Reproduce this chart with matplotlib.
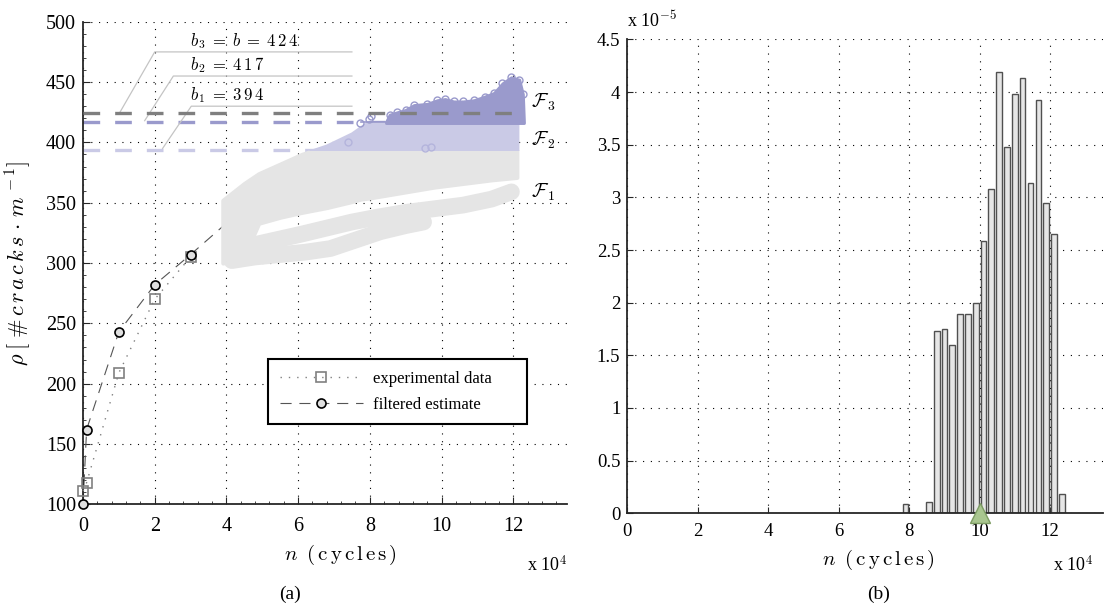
import numpy as np
import matplotlib
matplotlib.use('Agg')
import matplotlib.pyplot as plt
from matplotlib.patches import Rectangle
from matplotlib.lines import Line2D
from matplotlib.ticker import MultipleLocator, FuncFormatter

plt.rcParams['font.family'] = ['Liberation Serif', 'DejaVu Serif']
plt.rcParams['mathtext.fontset'] = 'cm'

# ---- data (n in units of 1e4 cycles) ----
n_exp = [0, 0.1, 1, 2, 3]
rho_exp = [111, 118, 209, 270, 305]

n_filt = [0, 0.1, 1, 2, 3, 4]
rho_filt = [100, 162, 243, 282, 307, 333]

b_vals = [394, 417, 424]          # b1, b2, b3 = b

# particle cloud
mass_x = [3.9, 4.5, 4.9, 5.5, 6.1, 6.8, 7.5, 7.74, 8.0, 8.2, 9.0, 9.8, 10.6, 11.4, 12.1]
mass_top = [352, 366, 374, 382, 390, 397, 407, 412, 417, 417, 417, 417, 417, 417, 417]
mass_bot = [300, 306, 333, 338, 342, 346, 351, 353, 354, 355, 359, 363, 366, 369, 371]

strandA_x = [4.15, 4.8, 5.5, 6.2, 6.9, 7.6, 8.3, 9.0, 9.5]
strandA_y = [302, 305, 307, 309, 312, 319, 326, 331, 334]
strandB_x = [4.15, 4.9, 5.5, 6.1, 6.8, 7.5, 8.2, 9.0, 9.8, 10.6, 11.4, 11.95]
strandB_y = [312, 316, 320, 324, 329, 334, 338, 342, 345, 348, 353, 359]

f3_x = [8.45, 8.55, 8.76, 9.0, 9.23, 9.6, 9.88, 10.1, 10.34, 10.6, 10.9, 11.2, 11.46, 11.7, 11.94, 12.17, 12.27, 12.3]
f3_top = [417, 423, 425, 427, 431, 432, 435, 436, 434, 434, 435, 438, 441, 449, 454, 452, 440, 417]
loose3_x = [7.72, 7.98, 8.03]
loose3_y = [416, 419, 421.5]
loose2_x = [7.4, 9.55, 9.7]
loose2_y = [400.5, 395, 396]

# histogram of failure cycles (density in units of 1e-5)
hist_n = [7.89, 8.56, 8.78, 9.0, 9.22, 9.45, 9.67, 9.9, 10.11, 10.33,
          10.55, 10.77, 11.0, 11.22, 11.44, 11.67, 11.89, 12.11, 12.33]
hist_p = [0.09, 0.11, 1.73, 1.75, 1.60, 1.89, 1.89, 2.0, 2.59, 3.08,
          4.19, 3.48, 3.98, 4.13, 3.14, 3.92, 2.95, 2.65, 0.18]
n_true = 10

c_f1 = '#e5e5e5'
c_f2 = '#cacae6'
c_f3 = '#9a9acc'
grid_ls = (0, (1, 6))

fig = plt.figure(figsize=(11.07, 6.09), dpi=100)
ax1 = fig.add_axes([0.075, 0.1719, 0.4372, 0.7924])
ax2 = fig.add_axes([0.5667, 0.1571, 0.4297, 0.7783])

for ax in (ax1, ax2):
    ax.spines['top'].set_visible(False)
    ax.spines['right'].set_visible(False)
    for s in ('left', 'bottom'):
        ax.spines[s].set_color('#262626')
        ax.spines[s].set_linewidth(1.3)
    ax.grid(True, linestyle=grid_ls, color='k', linewidth=0.8)
    ax.set_axisbelow(True)

# ---------------- left panel ----------------
ax1.set_xlim(0, 13.5)
ax1.set_ylim(100, 500)
ax1.xaxis.set_major_locator(MultipleLocator(2))
ax1.xaxis.set_minor_locator(MultipleLocator(0.4))
ax1.yaxis.set_major_locator(MultipleLocator(50))
ax1.yaxis.set_minor_locator(MultipleLocator(10))
ax1.set_xticks(np.arange(0, 13, 2))
ax1.tick_params(which='both', direction='in', colors='#262626', labelcolor='k')
ax1.tick_params(which='major', length=5, labelsize=14.5)
ax1.tick_params(which='minor', length=2.5)
ax1.tick_params(axis='x', pad=9)
ax1.tick_params(axis='y', pad=5)

# threshold lines below the cloud
ax1.plot([0, 12.1], [b_vals[0]] * 2, color=c_f2, lw=2.4, dashes=(5, 4.5), zorder=1.5)
ax1.plot([0, 12.1], [b_vals[1]] * 2, color=c_f3, lw=2.4, dashes=(5, 4.5), zorder=1.5)

# cloud, split into the three bands
bands = [(100, b_vals[0], c_f1), (b_vals[0], b_vals[1], c_f2)]
for lo, hi, col in bands:
    clip = Rectangle((0, lo), 14, hi - lo, transform=ax1.transData)
    p = ax1.fill_between(mass_x, mass_bot, mass_top, color=col, lw=3,
                         edgecolor=col, joinstyle='round', zorder=2)
    p.set_clip_path(clip)
ax1.plot(strandA_x, strandA_y, color=c_f1, lw=12, solid_capstyle='round',
         solid_joinstyle='round', zorder=2)
ax1.plot(strandB_x, strandB_y, color=c_f1, lw=12, solid_capstyle='round',
         solid_joinstyle='round', zorder=2)
ax1.plot([7.74, 8.5], [b_vals[1]] * 2, color=c_f3, lw=1.2, zorder=2)
ax1.fill_between(f3_x, b_vals[1] - 1, f3_top, color=c_f3, lw=2, edgecolor=c_f3, zorder=2)
ax1.plot(f3_x[1:-1], f3_top[1:-1], 'o', mfc='none', mec=c_f3, ms=5, mew=1, zorder=2)
ax1.plot(loose3_x, loose3_y, 'o', mfc='none', mec=c_f3, ms=5, mew=1, zorder=2)
ax1.plot(loose2_x, loose2_y, 'o', mfc='none', mec='#b4b4dc', ms=5, mew=1, zorder=2)

ax1.plot([0, 12.1], [b_vals[2]] * 2, color='#7f7f7f', lw=2.4, dashes=(5, 4.5), zorder=4)

# annotations of b values
ann_c = '#c4c4c4'
ax1.plot([1.03, 2.0, 7.5], [b_vals[2] + 1, 475, 475], color=ann_c, lw=0.9, zorder=3)
ax1.plot([1.72, 2.52, 7.5], [b_vals[1] + 1, 455, 455], color=ann_c, lw=0.9, zorder=3)
ax1.plot([2.22, 3.02, 7.5], [b_vals[0] + 1, 430, 430], color=ann_c, lw=0.9, zorder=3)
ax1.text(2.97, 484, r'$b_{\,3}\;=\;b\;=\;4\,2\,4$', fontsize=12, va='center', zorder=5)
ax1.text(2.97, 464, r'$b_{\,2}\;=\;4\,1\,7$', fontsize=12, va='center', zorder=5)
ax1.text(2.97, 439, r'$b_{\,1}\;=\;3\,9\,4$', fontsize=12, va='center', zorder=5)

ax1.text(12.5, 433, r'$\mathcal{F}_{\,3}$', fontsize=14, va='center')
ax1.text(12.5, 402, r'$\mathcal{F}_{\,2}$', fontsize=14, va='center')
ax1.text(12.5, 359, r'$\mathcal{F}_{\,1}$', fontsize=14, va='center')

# measurements and filtered estimate
exp_style = dict(color='#808080', ls=(0, (1, 5)), lw=1.0, marker='s', ms=6.5,
                 mfc='none', mec='#808080', mew=1.2)
filt_line = dict(color='#555555', ls=(0, (10, 7)), lw=0.8)
filt_mark = dict(marker='o', ms=6.5, mfc='#e0e0e0', mec='k', mew=1.2)
ax1.plot(n_exp, rho_exp, zorder=3, clip_on=False, **exp_style)
ax1.plot(n_filt, rho_filt, zorder=1.8, **filt_line)
ax1.plot(n_filt[:5], rho_filt[:5], ls='none', zorder=3.5, clip_on=False, **filt_mark)

handles = [Line2D([], [], **exp_style),
           Line2D([], [], **filt_line, **filt_mark)]
leg = ax1.legend(handles, ['experimental data', 'filtered estimate'],
                 loc='upper left', bbox_to_anchor=(0.382, 0.171, 0.536, 0.13),
                 mode='expand', fontsize=12, handlelength=5.0, handletextpad=0.6,
                 labelspacing=0.6, borderpad=0.7, fancybox=False, framealpha=1,
                 edgecolor='k', numpoints=1, borderaxespad=0)
leg.get_frame().set_linewidth(1.5)

ax1.set_ylabel(r'$\rho\;[\;\#\,c\,r\,a\,c\,k\,s\,\cdot\,m^{\,-1}]$', fontsize=16)
ax1.yaxis.set_label_coords(-0.134, 0.5)
ax1.yaxis.label.set_verticalalignment('center')
ax1.set_xlabel(r'$n\;\;(\,\mathrm{c\,y\,c\,l\,e\,s}\,)$', fontsize=15)
ax1.xaxis.set_label_coords(0.531, -0.105)
ax1.xaxis.label.set_verticalalignment('center')
ax1.text(1.0, -0.126, r'x 10$^{4}$', transform=ax1.transAxes, ha='right',
         va='center', fontsize=13)

# ---------------- right panel ----------------
ax2.bar(hist_n, hist_p, width=0.16, color='#e6e6e6', edgecolor='#505050',
        linewidth=1.0, zorder=2)
ax2.plot([n_true], [0], marker='^', ms=15, mfc='#a9c68f', mec='#7d9c63',
         mew=1, clip_on=False, zorder=5)
ax2.set_xlim(0, 13.5)
ax2.set_ylim(0, 4.5)
ax2.set_xticks(np.arange(0, 13, 2))
ax2.yaxis.set_major_locator(MultipleLocator(0.5))
ax2.yaxis.set_major_formatter(FuncFormatter(lambda v, p: '%g' % v))
ax2.tick_params(direction='in', length=4, labelsize=13.5, colors='#262626', labelcolor='k')
ax2.tick_params(axis='x', pad=7)
ax2.tick_params(axis='y', pad=5)
ax2.set_xlabel(r'$n\;\;(\,\mathrm{c\,y\,c\,l\,e\,s}\,)$', fontsize=15)
ax2.xaxis.set_label_coords(0.527, -0.0985)
ax2.xaxis.label.set_verticalalignment('center')
ax2.text(0.979, -0.109, r'x 10$^{4}$', transform=ax2.transAxes, ha='right',
         va='center', fontsize=13)
ax2.text(0.0, 1.04, r'x 10$^{-5}$', transform=ax2.transAxes, ha='left',
         va='center', fontsize=13)

fig.text(290 / 1107, 15 / 609, '(a)', ha='center', va='center', fontsize=14)
fig.text(879 / 1107, 15 / 609, '(b)', ha='center', va='center', fontsize=14)

fig.savefig('out.png', dpi=100)
